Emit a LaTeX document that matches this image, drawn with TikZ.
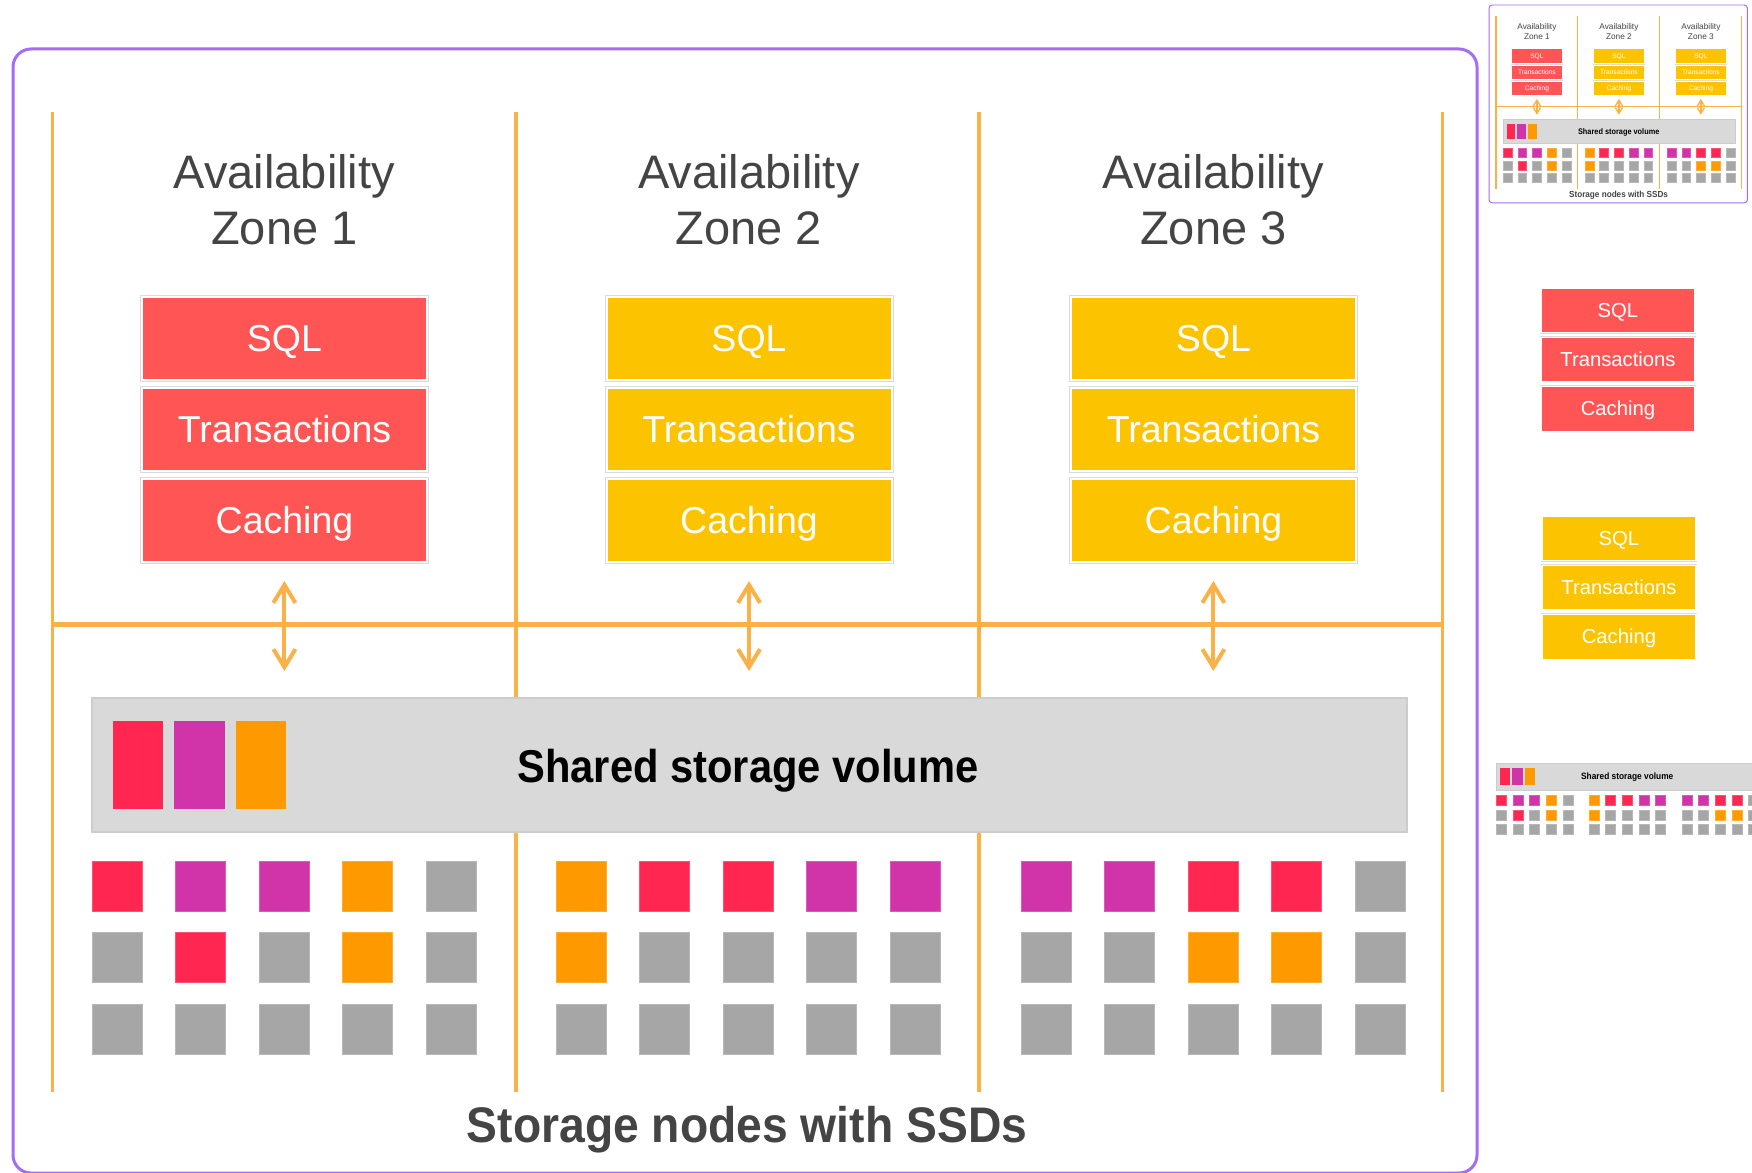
\documentclass[tikz,border=0pt]{standalone}
\usepackage{fontspec}
\usepackage{graphicx}
\setmainfont{Liberation Sans}
\usetikzlibrary{arrows.meta}
\definecolor{frameP}{RGB}{163,110,245}
\definecolor{lineO}{RGB}{250,177,72}
\definecolor{stRed}{RGB}{255,85,85}
\definecolor{stYel}{RGB}{252,196,0}
\definecolor{sqRed}{RGB}{255,39,82}
\definecolor{sqMag}{RGB}{209,51,168}
\definecolor{sqOra}{RGB}{255,153,0}
\definecolor{sqGray}{RGB}{166,166,166}
\definecolor{volGray}{RGB}{217,217,217}
\definecolor{txtDark}{RGB}{68,68,68}
\def\lwf{1}
\tikzset{
  framebox/.style={draw=frameP, line width=\lwf*3pt},
  vline/.style={draw=lineO, line width=\lwf*3.5pt},
  hline/.style={draw=lineO, line width=\lwf*5pt},
  hdr/.style={anchor=base, inner sep=0pt, text=txtDark, font=\fontsize{47}{56}\selectfont},
  layerbox/.style={minimum width=285pt, minimum height=83pt, inner sep=0pt,
    text height=26.5pt, text depth=0pt, text=white, font=\fontsize{37.5}{44}\selectfont,
    draw=white, line width=\lwf*2pt, preaction={draw=black!14, line width=\lwf*4pt}},
  biarrow/.style={draw=lineO, line width=\lwf*4pt, >={Straight Barb[length=0pt 4.5,width=0pt 5.5]}, <->},
  volbox/.style={fill=volGray, draw=black!20, line width=\lwf*1.5pt, minimum width=1315pt, minimum height=134pt, inner sep=0pt},
  vollab/.style={anchor=base, inner sep=0pt, text=black, font=\fontsize{46}{54}\selectfont\bfseries},
  footlab/.style={anchor=base, inner sep=0pt, text=txtDark, font=\fontsize{50}{60}\selectfont\bfseries},
}
\newcommand\layerstack[2]{%
  \node[layerbox, fill=#2] (#1a) at (142.5,41.5) {SQL};
  \node[layerbox, fill=#2] (#1b) at (142.5,132.5) {Transactions};
  \node[layerbox, fill=#2] (#1c) at (142.5,223.5) {Caching};
}
\newcommand\gridzone[2]{%
  \foreach \c [count=\i from 0] in {#2} {
    \pgfmathtruncatemacro\sqcol{mod(\i,5)}
    \pgfmathtruncatemacro\sqrow{div(\i,5)}
    \fill[\c, draw=\c!80!white, line width=\lwf*1pt] ({#1+\sqcol*83.5},{861+\sqrow*71.6}) rectangle ++(50,50);
  }
}
\newcommand\storagepart[1]{%
  \node[volbox] (#1vol) at (749.5,765) {};
  \fill[sqRed] (113,721) rectangle (163,809);
  \fill[sqMag] (174,721) rectangle (224.5,809);
  \fill[sqOra] (236,721) rectangle (286,809);
  \node[vollab] (#1vlab) at (748,782) {\scalebox{0.906}[1]{Shared storage volume}};
  \gridzone{92}{sqRed,sqMag,sqMag,sqOra,sqGray,sqGray,sqRed,sqGray,sqOra,sqGray,sqGray,sqGray,sqGray,sqGray,sqGray}
  \gridzone{556}{sqOra,sqRed,sqRed,sqMag,sqMag,sqOra,sqGray,sqGray,sqGray,sqGray,sqGray,sqGray,sqGray,sqGray,sqGray}
  \gridzone{1021}{sqMag,sqMag,sqRed,sqRed,sqGray,sqGray,sqGray,sqOra,sqOra,sqGray,sqGray,sqGray,sqGray,sqGray,sqGray}
}
\newcommand\fulldiagram[3]{%
  \draw[framebox, rounded corners=#2pt] (13,49) rectangle (1477,#3);
  \foreach \vx in {52.5,516,979,1442.5} {\draw[vline] (\vx,112) -- (\vx,1092);}
  \draw[hline] (52.5,624.5) -- (1442.5,624.5);
  \foreach \cx/\zn in {284.4/1, 749/2, 1213.4/3} {
    \node[hdr] (#1hA\zn) at (\cx,188) {Availability};
    \node[hdr] (#1hB\zn) at (\cx,244) {Zone \zn};
    \coordinate (#1up\zn) at (\cx,581);
    \coordinate (#1dn\zn) at (\cx,671);
    \draw[biarrow] (#1up\zn) -- (#1dn\zn);
  }
  \begin{scope}[shift={(142,297)}] \layerstack{#1zA}{stRed} \end{scope}
  \begin{scope}[shift={(606.5,297)}] \layerstack{#1zB}{stYel} \end{scope}
  \begin{scope}[shift={(1071,297)}] \layerstack{#1zC}{stYel} \end{scope}
  \storagepart{#1}
  \node[footlab] (#1foot) at (747,1142) {\scalebox{0.925}[1]{Storage nodes with SSDs}};
}
\begin{document}
\begin{tikzpicture}[x=1pt, y=-1pt, every node/.append style={transform shape}]
\useasboundingbox (0,0) rectangle (1752,1172);
\fill[white] (0,0) rectangle (1752,1172);
\fulldiagram{m}{18}{1173}
% thumbnail
\begin{scope}[shift={(1486.7,-3.65)}, scale=0.1765]
  \def\lwf{0.33}
  \fulldiagram{t}{3.2}{1170}
\end{scope}
% side stacks
\begin{scope}[shift={(1541,288)}, scale=0.54]
  \def\lwf{0.6}
  \layerstack{sr}{stRed}
\end{scope}
\begin{scope}[shift={(1542,516)}, scale=0.54]
  \def\lwf{0.6}
  \layerstack{sy}{stYel}
\end{scope}
% storage strip
\begin{scope}
  \clip (1480,740) rectangle (1752,850);
  \begin{scope}[shift={(1477.6,623.4)}, scale=0.2]
    \def\lwf{0.3}
    \storagepart{st}
  \end{scope}
\end{scope}
\end{tikzpicture}
\end{document}
